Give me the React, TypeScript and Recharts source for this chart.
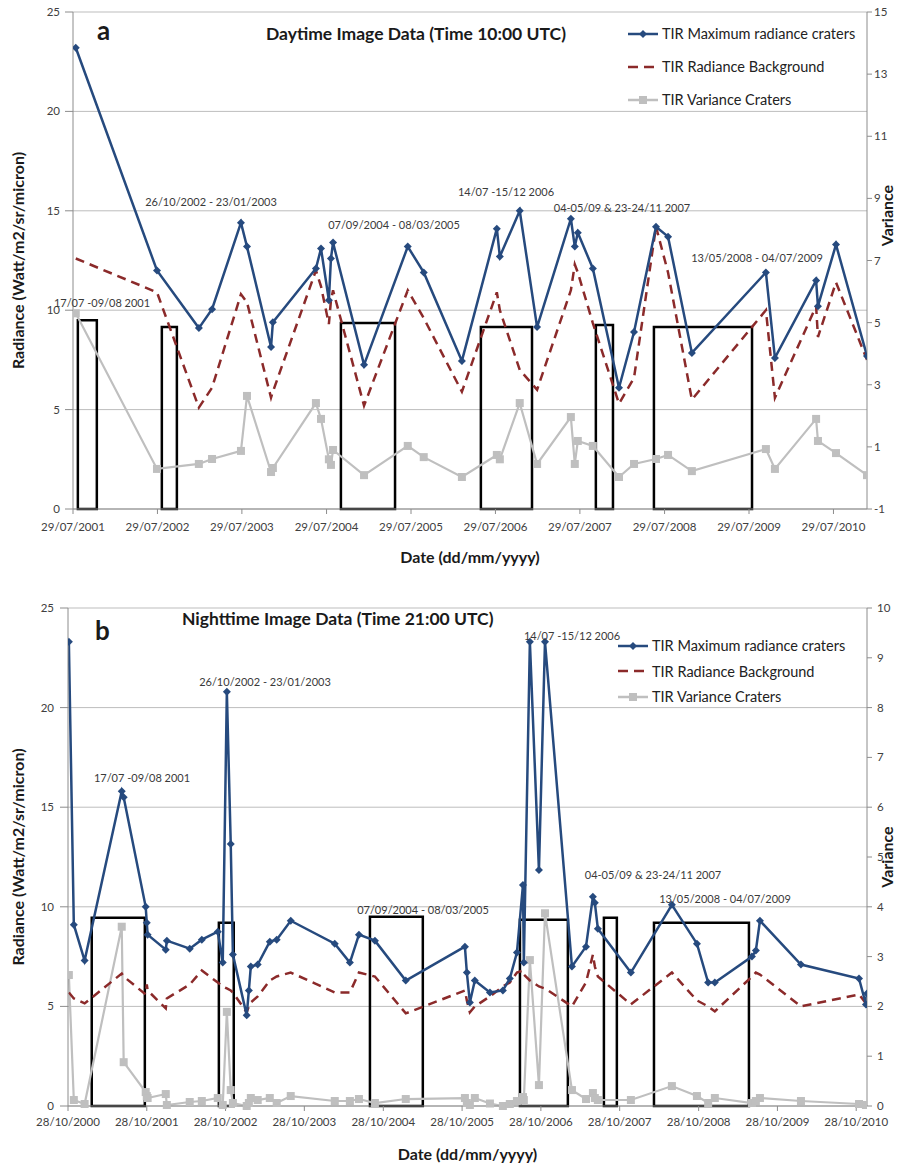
import React from "react";
import { ComposedChart, Line, XAxis, YAxis, CartesianGrid, ReferenceArea, Legend } from "recharts";

const FONT = "Lato, 'Open Sans', sans-serif";
const BLUE = "#264a7e";
const RED = "#8b2a2a";
const GRAY = "#bfbfbf";

// ---- panel a: daytime (10:00 UTC) ----
const dayDates = [
  "2001-08-10", "2002-07-27", "2003-01-24", "2003-03-22", "2003-07-25", "2003-08-20", "2003-12-02", "2003-12-10",
  "2004-06-13", "2004-07-05", "2004-08-08", "2004-08-17", "2004-08-26", "2005-01-07", "2005-07-15", "2005-09-22",
  "2006-03-06", "2006-08-04", "2006-08-17", "2006-11-11", "2007-01-25", "2007-06-20", "2007-07-07", "2007-07-20",
  "2007-09-23", "2008-01-14", "2008-03-19", "2008-06-22", "2008-08-13", "2008-11-24", "2009-10-10", "2009-11-18",
  "2010-05-15", "2010-05-23", "2010-08-09", "2010-12-21",
];
const dayMaxRad = [
  23.2, 12.0, 9.1, 10.05, 14.4, 13.2, 8.15, 9.4,
  12.1, 13.1, 10.5, 12.6, 13.4, 7.25, 13.2, 11.9,
  7.45, 14.1, 12.7, 15.0, 9.15, 14.6, 13.2, 13.9,
  12.1, 6.1, 8.9, 14.2, 13.7, 7.85, 11.9, 7.6,
  11.5, 10.2, 13.3, 7.7,
];
const dayBackground = [
  12.6, 10.9, 5.1, 6.1, 10.8, 10.4, 5.6, 5.9,
  12.0, 11.2, 9.3, 10.5, 11.0, 5.2, 11.0, 9.6,
  5.9, 10.9, 10.0, 7.0, 6.0, 11.0, 12.3, 11.9,
  9.35, 5.3, 6.6, 14.2, 11.9, 5.5, 10.0, 5.6,
  10.2, 8.65, 11.4, 7.5,
];
const dayVariance = [
  5.3, 0.29, 0.45, 0.61, 0.87, 2.64, 0.19, 0.32,
  2.41, 1.9, 0.6, 0.42, 0.9, 0.09, 1.03, 0.67,
  0.03, 0.74, 0.6, 2.41, 0.45, 1.96, 0.45, 1.19,
  1.03, 0.03, 0.45, 0.61, 0.74, 0.22, 0.93, 0.29,
  1.9, 1.19, 0.8, 0.09,
];
const dayTicks = ["2001-07-29", "2002-07-29", "2003-07-29", "2004-07-29", "2005-07-29", "2006-07-29", "2007-07-29", "2008-07-29", "2009-07-29", "2010-07-29"];
const dayDomain = ["2001-07-29", "2010-12-21"];
const dayRightTicks = [-1, 1, 3, 5, 7, 9, 11, 13, 15];
const dayBoxStart = ["2001-08-19", "2002-08-17", "2004-09-29", "2006-05-27", "2007-10-06", "2008-06-13"];
const dayBoxEnd = ["2001-11-09", "2002-10-21", "2005-05-21", "2007-01-03", "2007-12-19", "2009-08-11"];
const dayBoxTop = [9.5, 9.15, 9.35, 9.15, 9.25, 9.15];

// ---- panel b: nighttime (21:00 UTC) ----
const nightDates = [
  "2000-11-01", "2000-11-24", "2001-01-13", "2001-07-04", "2001-07-13", "2001-10-23", "2001-10-28", "2001-11-01",
  "2002-01-24", "2002-01-29", "2002-05-15", "2002-07-10", "2002-09-22", "2002-10-15", "2002-11-03", "2002-11-21",
  "2002-12-01", "2003-02-03", "2003-02-13", "2003-02-22", "2003-03-26", "2003-05-21", "2003-06-22", "2003-08-26",
  "2004-03-17", "2004-05-26", "2004-07-07", "2004-09-19", "2005-02-09", "2005-11-10", "2005-11-19", "2005-12-03",
  "2005-12-26", "2006-03-06", "2006-05-05", "2006-06-06", "2006-07-09", "2006-08-06", "2006-08-10", "2006-09-07",
  "2006-10-19", "2006-11-16", "2007-03-21", "2007-05-25", "2007-06-26", "2007-07-05", "2007-07-19", "2007-12-19",
  "2008-06-26", "2008-10-20", "2008-12-11", "2009-01-11", "2009-07-02", "2009-07-20", "2009-08-08", "2010-02-14",
  "2010-11-10", "2010-12-12", "2010-12-17",
];
const nightMaxRad = [
  23.3, 9.1, 7.3, 15.8, 15.5, 10.0, 9.2, 8.6,
  7.85, 8.3, 7.9, 8.35, 8.75, 7.2, 20.8, 13.15,
  7.6, 4.55, 5.8, 7.0, 7.1, 8.25, 8.35, 9.3,
  8.15, 7.2, 8.6, 8.3, 6.3, 8.0, 6.7, 5.2,
  6.3, 5.7, 5.8, 6.4, 7.7, 11.1, 7.2, 23.3,
  11.85, 23.3, 7.0, 8.0, 10.5, 10.2, 8.9, 6.7,
  10.1, 8.15, 6.2, 6.2, 7.5, 7.8, 9.3, 7.1,
  6.4, 5.1, 5.65,
];
const nightBackground = [
  5.7, 5.4, 5.15, 6.65, 6.5, 5.6, 6.1, 5.8,
  4.9, 5.4, 6.1, 6.8, 6.2, 6.0, 5.9, 5.8,
  5.7, 4.7, 5.0, 5.2, 5.5, 6.3, 6.5, 6.7,
  5.7, 5.7, 6.7, 6.5, 4.65, 5.8, 5.3, 4.7,
  5.0, 5.5, 6.0, 6.2, 6.7, 6.8, 6.6, 6.3,
  6.0, 5.9, 5.0, 6.2, 7.6, 7.0, 6.5, 5.1,
  6.7, 5.3, 5.0, 4.75, 6.5, 6.7, 6.6, 5.0,
  5.6, 5.15, 5.1,
];
const nightVariance = [
  2.63, 0.12, 0.04, 3.6, 0.88, 0.28, 0.2, 0.16,
  0.24, 0.02, 0.08, 0.1, 0.16, 0.02, 1.89, 0.32,
  0.06, 0.0, 0.06, 0.16, 0.12, 0.16, 0.06, 0.2,
  0.1, 0.1, 0.14, 0.06, 0.14, 0.16, 0.06, 0.02,
  0.16, 0.05, 0.0, 0.04, 0.1, 0.18, 0.12, 2.93,
  0.42, 3.87, 0.32, 0.14, 0.26, 0.16, 0.12, 0.12,
  0.4, 0.2, 0.06, 0.16, 0.06, 0.1, 0.16, 0.1,
  0.04, 0.02, 0.02,
];
const nightTicks = ["2000-10-28", "2001-10-28", "2002-10-28", "2003-10-28", "2004-10-28", "2005-10-28", "2006-10-28", "2007-10-28", "2008-10-28", "2009-10-28", "2010-10-28"];
const nightDomain = ["2000-10-28", "2010-12-17"];
const nightRightTicks = [0, 1, 2, 3, 4, 5, 6, 7, 8, 9, 10];
const nightBoxStart = ["2001-02-15", "2002-09-27", "2004-08-27", "2006-07-23", "2007-08-16", "2008-04-04"];
const nightBoxEnd = ["2001-10-19", "2002-12-05", "2005-04-29", "2007-03-02", "2007-10-15", "2009-06-18"];
const nightBoxTop = [9.45, 9.2, 9.5, 9.35, 9.45, 9.2];

const leftTicks = [0, 5, 10, 15, 20, 25];
const seriesNames = ["TIR Maximum radiance craters", "TIR Radiance Background", "TIR Variance Craters"];

// annotation texts (page coordinates)
const notesA = [
  { text: "17/07 -09/08 2001", x: 102, y: 302 },
  { text: "26/10/2002 - 23/01/2003", x: 211, y: 201 },
  { text: "07/09/2004 - 08/03/2005", x: 394, y: 224 },
  { text: "14/07 -15/12 2006", x: 506, y: 191 },
  { text: "04-05/09 & 23-24/11 2007", x: 622, y: 207 },
  { text: "13/05/2008 - 04/07/2009", x: 757, y: 257 },
];
const notesB = [
  { text: "17/07 -09/08 2001", x: 142, y: 777 },
  { text: "26/10/2002 - 23/01/2003", x: 265, y: 681 },
  { text: "07/09/2004 - 08/03/2005", x: 423, y: 909 },
  { text: "14/07 -15/12 2006", x: 572, y: 635 },
  { text: "04-05/09 & 23-24/11 2007", x: 653, y: 874 },
  { text: "13/05/2008 - 04/07/2009", x: 725, y: 898 },
];

const toT = (s: string) => new Date(s + "T00:00:00Z").getTime();
const pad = (n: number) => (n < 10 ? "0" + n : "" + n);
const fmtDate = (t: number) => {
  const d = new Date(t);
  return `${pad(d.getUTCDate())}/${pad(d.getUTCMonth() + 1)}/${d.getUTCFullYear()}`;
};

const buildRows = (dates: string[], maxRad: number[], bg: number[], variance: number[]) =>
  dates.map((d, i) => ({ t: toT(d), maxRad: maxRad[i], background: bg[i], variance: variance[i] }));

const diamond = (p: any) => {
  const { cx, cy, index } = p;
  if (cx == null || cy == null) return <g key={index} />;
  return <path key={index} d={`M${cx},${cy - 4}L${cx + 4},${cy}L${cx},${cy + 4}L${cx - 4},${cy}Z`} fill={BLUE} />;
};
const square = (p: any) => {
  const { cx, cy, index } = p;
  if (cx == null || cy == null) return <g key={index} />;
  return <rect key={index} x={cx - 4} y={cy - 4} width={8} height={8} fill={GRAY} />;
};

const vLabel = (text: string, x: number, dy: number, cover: boolean) => (props: any) => {
  const vb = props.viewBox || {};
  const cy = vb.y + vb.height / 2 + dy;
  return (
    <g>
      {cover && <rect x={x - 10} y={cy - 38} width={20} height={76} fill="#fff" />}
      <text x={x} y={cy} transform={`rotate(-90 ${x} ${cy})`} textAnchor="middle" dominantBaseline="central"
        style={{ fontFamily: FONT, fontWeight: 700, fontSize: 16, fill: "#1a1a1a" }}>{text}</text>
    </g>
  );
};
const xLabel = (y: number) => (props: any) => {
  const vb = props.viewBox || {};
  return (
    <text x={vb.x + vb.width / 2} y={y} textAnchor="middle" dominantBaseline="central"
      style={{ fontFamily: FONT, fontWeight: 700, fontSize: 16, fill: "#1a1a1a" }}>Date (dd/mm/yyyy)</text>
  );
};

const LegendBox = ({ rowH }: { rowH: number }) => (
  <div style={{ fontFamily: FONT, fontSize: 14.5, color: "#222" }}>
    {seriesNames.map((name, i) => (
      <div key={name} style={{ display: "flex", alignItems: "center", height: rowH, whiteSpace: "nowrap" }}>
        <svg width={30} height={12}>
          {i === 0 && <><line x1={0} y1={6} x2={30} y2={6} stroke={BLUE} strokeWidth={2.5} /><path d="M15,2L19,6L15,10L11,6Z" fill={BLUE} /></>}
          {i === 1 && <line x1={0} y1={6} x2={28} y2={6} stroke={RED} strokeWidth={2.5} strokeDasharray="10 6" />}
          {i === 2 && <><line x1={0} y1={6} x2={30} y2={6} stroke={GRAY} strokeWidth={2.5} /><rect x={11} y={2} width={8} height={8} fill={GRAY} /></>}
        </svg>
        <span style={{ marginLeft: 4 }}>{name}</span>
      </div>
    ))}
  </div>
);

const tickStyle = { fontFamily: FONT, fontSize: 11.5, fill: "#404040" };

type PanelProps = {
  rows: any[]; ticks: string[]; domain: string[]; rightTicks: number[];
  boxStart: string[]; boxEnd: string[]; boxTop: number[];
  height: number; top: number; leftWidth: number; xAxisHeight: number;
  rightTickMargin: number; xTickMargin: number; leftTickMargin: number;
  dateLabelY: number; varianceDy: number; legendLeft: number; legendTop: number; legendRowH: number;
};

const Panel = (p: PanelProps) => (
  <ComposedChart width={898} height={p.height} data={p.rows} margin={{ top: p.top, right: 0, bottom: 0, left: 0 }}>
    <CartesianGrid yAxisId="left" vertical={false} stroke="#bdbdbd" strokeWidth={1} />
    <XAxis dataKey="t" type="number" domain={p.domain.map(toT)} ticks={p.ticks.map(toT)} tickFormatter={fmtDate}
      interval={0} allowDataOverflow height={p.xAxisHeight} tick={tickStyle} tickSize={5} tickMargin={p.xTickMargin}
      stroke="#8c8c8c" label={{ content: xLabel(p.dateLabelY) }} />
    <YAxis yAxisId="left" domain={[0, 25]} ticks={leftTicks} width={p.leftWidth} tick={tickStyle} tickSize={8}
      tickMargin={p.leftTickMargin} stroke="#8c8c8c" interval={0}
      label={{ content: vLabel("Radiance (Watt/m2/sr/micron)", 17, 0, false) }} />
    <YAxis yAxisId="right" orientation="right" domain={[p.rightTicks[0], p.rightTicks[p.rightTicks.length - 1]]}
      ticks={p.rightTicks} width={31} tick={{ ...tickStyle, textAnchor: "start" }} tickSize={5} tickMargin={p.rightTickMargin}
      stroke="#8c8c8c" interval={0} label={{ content: vLabel("Variance", 886, p.varianceDy, true) }} />
    <Line yAxisId="right" dataKey="variance" name={seriesNames[2]} stroke={GRAY} strokeWidth={2.2} dot={square}
      activeDot={false} isAnimationActive={false} />
    <Line yAxisId="left" dataKey="background" name={seriesNames[1]} stroke={RED} strokeWidth={2.5} strokeDasharray="9 6"
      dot={false} activeDot={false} isAnimationActive={false} />
    <Line yAxisId="left" dataKey="maxRad" name={seriesNames[0]} stroke={BLUE} strokeWidth={2.5} dot={diamond}
      activeDot={false} isAnimationActive={false} />
    {p.boxStart.map((s, i) => (
      <ReferenceArea key={s} yAxisId="left" x1={toT(s)} x2={toT(p.boxEnd[i])} y1={0} y2={p.boxTop[i]}
        fill="none" fillOpacity={0} stroke="#000" strokeWidth={2.5} />
    ))}
    <Legend layout="horizontal" verticalAlign="middle" align="center" content={() => <LegendBox rowH={p.legendRowH} />}
      wrapperStyle={{ left: p.legendLeft, top: p.legendTop, width: 280 }} />
  </ComposedChart>
);

const App = () => {
  const dayRows = buildRows(dayDates, dayMaxRad, dayBackground, dayVariance);
  const nightRows = buildRows(nightDates, nightMaxRad, nightBackground, nightVariance);
  const noteStyle = { fontFamily: FONT, fontSize: 11, fill: "#3a3a3a" };
  const titleStyle = { fontFamily: FONT, fontSize: 17.5, fontWeight: 700, fill: "#1a1a1a" };
  const letterStyle = { fontFamily: FONT, fontSize: 26, fontWeight: 700, fill: "#1a1a1a" };
  return (
    <div style={{ position: "absolute", left: 0, top: 0, width: 898, height: 1166, background: "#fff" }}>
      <div style={{ position: "absolute", left: 0, top: 0 }}>
        <Panel rows={dayRows} ticks={dayTicks} domain={dayDomain} rightTicks={dayRightTicks}
          boxStart={dayBoxStart} boxEnd={dayBoxEnd} boxTop={dayBoxTop}
          height={580} top={12} leftWidth={73} xAxisHeight={71} rightTickMargin={2} xTickMargin={9} leftTickMargin={5}
          dateLabelY={556} varianceDy={-45} legendLeft={628} legendTop={17} legendRowH={33} />
      </div>
      <div style={{ position: "absolute", left: 0, top: 580 }}>
        <Panel rows={nightRows} ticks={nightTicks} domain={nightDomain} rightTicks={nightRightTicks}
          boxStart={nightBoxStart} boxEnd={nightBoxEnd} boxTop={nightBoxTop}
          height={586} top={28} leftWidth={68} xAxisHeight={60} rightTickMargin={5} xTickMargin={7} leftTickMargin={6}
          dateLabelY={573} varianceDy={0} legendLeft={618} legendTop={53} legendRowH={25.5} />
      </div>
      <svg width={898} height={1166} style={{ position: "absolute", left: 0, top: 0, pointerEvents: "none" }}>
        <text x={97} y={40} style={letterStyle}>a</text>
        <text x={266} y={40} style={titleStyle}>Daytime Image Data (Time 10:00 UTC)</text>
        <text x={95} y={640} style={letterStyle}>b</text>
        <text x={182} y={625} style={titleStyle}>Nighttime Image Data (Time 21:00 UTC)</text>
        {[...notesA, ...notesB].map((n, i) => (
          <text key={i} x={n.x} y={n.y} textAnchor="middle" dominantBaseline="central" style={noteStyle}>{n.text}</text>
        ))}
      </svg>
    </div>
  );
};

export default App;
